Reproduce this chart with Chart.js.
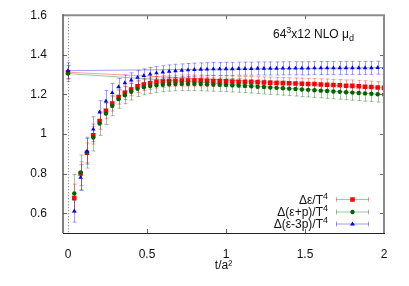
<!DOCTYPE html>
<html>
<head>
<meta charset="utf-8">
<script src="https://cdn.jsdelivr.net/npm/chart.js@4.4.0/dist/chart.umd.min.js"></script>
<style>
  html, body { margin: 0; padding: 0; background: #fff; }
  #wrap { width: 409px; height: 286px; }
</style>
</head>
<body>
<div id="wrap"><canvas id="chart" width="409" height="286"></canvas></div>
<script>
// flow time t/a^2
const tValues = [
  0, 0.04, 0.08, 0.12, 0.16, 0.2, 0.24, 0.28, 0.32, 0.36,
  0.4, 0.44, 0.48, 0.52, 0.56, 0.6, 0.64, 0.68, 0.72, 0.76,
  0.8, 0.84, 0.88, 0.92, 0.96, 1, 1.04, 1.08, 1.12, 1.16,
  1.2, 1.24, 1.28, 1.32, 1.36, 1.4, 1.44, 1.48, 1.52, 1.56,
  1.6, 1.64, 1.68, 1.72, 1.76, 1.8, 1.84, 1.88, 1.92, 1.96,
  2
];

// Δε/T^4
const eps = [
  1.312, 0.677, 0.800, 0.905, 0.994, 1.066, 1.117, 1.154, 1.187, 1.208,
  1.225, 1.241, 1.250, 1.256, 1.261, 1.265, 1.267, 1.269, 1.270, 1.270,
  1.270, 1.270, 1.269, 1.268, 1.267, 1.266, 1.265, 1.264, 1.263, 1.262,
  1.261, 1.260, 1.259, 1.258, 1.257, 1.256, 1.255, 1.254, 1.253, 1.252,
  1.250, 1.249, 1.247, 1.246, 1.244, 1.243, 1.241, 1.239, 1.237, 1.235,
  1.233
];
const errEps = [
  0.035, 0.070, 0.060, 0.050, 0.045, 0.042, 0.040, 0.038, 0.036, 0.034,
  0.032, 0.031, 0.030, 0.030, 0.029, 0.029, 0.028, 0.028, 0.028, 0.028,
  0.028, 0.028, 0.028, 0.028, 0.028, 0.028, 0.028, 0.028, 0.028, 0.028,
  0.028, 0.028, 0.028, 0.028, 0.028, 0.028, 0.028, 0.028, 0.028, 0.028,
  0.029, 0.029, 0.029, 0.029, 0.029, 0.030, 0.030, 0.030, 0.030, 0.030,
  0.030
];

// Δ(ε+p)/T^4
const epsP = [
  1.305, 0.700, 0.806, 0.906, 0.982, 1.053, 1.103, 1.142, 1.176, 1.196,
  1.213, 1.228, 1.236, 1.242, 1.246, 1.249, 1.251, 1.252, 1.253, 1.253,
  1.253, 1.252, 1.251, 1.250, 1.249, 1.248, 1.246, 1.245, 1.243, 1.241,
  1.239, 1.237, 1.235, 1.233, 1.231, 1.229, 1.227, 1.225, 1.223, 1.221,
  1.219, 1.217, 1.215, 1.213, 1.211, 1.209, 1.207, 1.205, 1.203, 1.201,
  1.199
];
const errEpsP = [
  0.040, 0.095, 0.088, 0.078, 0.068, 0.060, 0.055, 0.050, 0.046, 0.043,
  0.041, 0.039, 0.038, 0.037, 0.036, 0.035, 0.035, 0.034, 0.034, 0.034,
  0.034, 0.034, 0.034, 0.034, 0.034, 0.034, 0.034, 0.034, 0.034, 0.034,
  0.035, 0.035, 0.035, 0.035, 0.035, 0.035, 0.035, 0.036, 0.036, 0.036,
  0.036, 0.037, 0.037, 0.037, 0.038, 0.038, 0.038, 0.039, 0.039, 0.040,
  0.040
];

// Δ(ε-3p)/T^4
const eps3p = [
  1.320, 0.610, 0.780, 0.913, 1.024, 1.110, 1.166, 1.208, 1.238, 1.258,
  1.272, 1.285, 1.295, 1.302, 1.308, 1.312, 1.316, 1.319, 1.321, 1.323,
  1.325, 1.326, 1.327, 1.328, 1.328, 1.329, 1.329, 1.330, 1.330, 1.330,
  1.331, 1.331, 1.331, 1.331, 1.332, 1.332, 1.332, 1.332, 1.332, 1.333,
  1.333, 1.333, 1.333, 1.333, 1.334, 1.334, 1.334, 1.334, 1.334, 1.335,
  1.335
];
const errEps3p = [
  0.040, 0.055, 0.065, 0.065, 0.063, 0.058, 0.054, 0.048, 0.043, 0.040,
  0.037, 0.035, 0.034, 0.034, 0.033, 0.033, 0.033, 0.033, 0.033, 0.033,
  0.033, 0.033, 0.033, 0.033, 0.033, 0.033, 0.033, 0.033, 0.033, 0.033,
  0.033, 0.033, 0.033, 0.033, 0.033, 0.033, 0.033, 0.033, 0.033, 0.033,
  0.033, 0.033, 0.033, 0.033, 0.033, 0.033, 0.033, 0.033, 0.033, 0.033,
  0.033
];

const xTicks = [0, 0.5, 1, 1.5, 2];
const yTicks = [0.6, 0.8, 1, 1.2, 1.4, 1.6];

// t=0 row sits last in the data file, so a line runs from t=2 back to t=0
function toPoints(vals, errs) {
  const pts = tValues.map((t, i) => ({ x: t, y: vals[i], err: errs[i] }));
  pts.push(pts.shift());
  return pts;
}

const FONT = '"Liberation Sans", Arial, Helvetica, sans-serif';
Chart.defaults.font.family = FONT;
Chart.defaults.font.size = 12;
Chart.defaults.color = '#111';

const series = [
  { label: 'Δε/T', data: toPoints(eps, errEps), color: '#ff0000', light: 'rgba(255,0,0,0.38)', style: 'rect', radius: 3.2, order: 3 },
  { label: 'Δ(ε+p)/T', data: toPoints(epsP, errEpsP), color: '#006400', light: 'rgba(0,100,0,0.38)', style: 'circle', radius: 2.2, order: 2 },
  { label: 'Δ(ε-3p)/T', data: toPoints(eps3p, errEps3p), color: '#0000ff', light: 'rgba(0,0,255,0.38)', style: 'triangle', radius: 2.6, order: 1 }
];

function markPath(ctx, style, x, y, r) {
  ctx.beginPath();
  if (style === 'rect') {
    const s = r * Math.SQRT1_2;
    ctx.rect(x - s, y - s, 2 * s, 2 * s);
  } else if (style === 'circle') {
    ctx.arc(x, y, r, 0, Math.PI * 2);
  } else {
    ctx.moveTo(x, y - r);
    ctx.lineTo(x + r * 0.95, y + r * 0.6);
    ctx.lineTo(x - r * 0.95, y + r * 0.6);
    ctx.closePath();
  }
}

const errorBars = {
  id: 'errorBars',
  beforeDatasetsDraw(chart) {
    const { ctx, chartArea: a, scales: { x, y } } = chart;
    ctx.save();
    // dotted line at t=0
    const x0 = Math.round(x.getPixelForValue(0)) + 0.5;
    ctx.strokeStyle = '#777';
    ctx.lineWidth = 1;
    ctx.setLineDash([1, 2]);
    ctx.beginPath();
    ctx.moveTo(x0, a.top);
    ctx.lineTo(x0, a.bottom);
    ctx.stroke();
    ctx.setLineDash([]);

    ctx.beginPath();
    ctx.rect(a.left, a.top, a.right - a.left, a.bottom - a.top);
    ctx.clip();
    chart.data.datasets.slice().reverse().forEach((ds) => {
      ctx.strokeStyle = ds.errColor;
      ds.data.forEach((p) => {
        const px = Math.round(x.getPixelForValue(p.x)) + 0.5;
        const top = y.getPixelForValue(p.y + p.err);
        const bot = y.getPixelForValue(p.y - p.err);
        ctx.beginPath();
        ctx.moveTo(px, top); ctx.lineTo(px, bot);
        ctx.moveTo(px - 2, top); ctx.lineTo(px + 2, top);
        ctx.moveTo(px - 2, bot); ctx.lineTo(px + 2, bot);
        ctx.stroke();
      });
    });
    ctx.restore();
  }
};

function supText(ctx, parts, x, y, align) {
  // parts: [text, kind] with kind '' | 'sup' | 'sub'
  const fontFor = (k) => (k ? '9px ' : '12px ') + FONT;
  let w = 0;
  parts.forEach(([t, k]) => { ctx.font = fontFor(k); w += ctx.measureText(t).width; });
  let cx = align === 'right' ? x - w : x;
  ctx.textAlign = 'left';
  ctx.textBaseline = 'alphabetic';
  parts.forEach(([t, k]) => {
    ctx.font = fontFor(k);
    const dy = k === 'sup' ? -5 : k === 'sub' ? 3 : 0;
    ctx.fillText(t, cx, y + dy);
    cx += ctx.measureText(t).width;
  });
}

const frame = {
  id: 'frame',
  afterDraw(chart) {
    const { ctx, chartArea: a, scales: { x, y } } = chart;
    ctx.save();
    // inward ticks
    ctx.strokeStyle = '#666';
    ctx.lineWidth = 1;
    ctx.beginPath();
    xTicks.forEach((v) => {
      if (v <= 0 || v >= 2) return;
      const px = Math.round(x.getPixelForValue(v)) + 0.5;
      ctx.moveTo(px, a.bottom); ctx.lineTo(px, a.bottom - 4);
      ctx.moveTo(px, a.top); ctx.lineTo(px, a.top + 4);
    });
    yTicks.forEach((v) => {
      if (v >= 1.6) return;
      const py = Math.round(y.getPixelForValue(v)) + 0.5;
      ctx.moveTo(a.left, py); ctx.lineTo(a.left + 4, py);
      ctx.moveTo(a.right, py); ctx.lineTo(a.right - 4, py);
    });
    ctx.stroke();

    // border
    ctx.strokeStyle = '#8a8a8a';
    ctx.lineWidth = 2;
    ctx.beginPath();
    ctx.moveTo(a.left, a.top); ctx.lineTo(a.right, a.top); ctx.lineTo(a.right, a.bottom);
    ctx.stroke();
    ctx.strokeStyle = '#555';
    ctx.lineWidth = 1.5;
    ctx.beginPath();
    ctx.moveTo(a.left, a.top - 1); ctx.lineTo(a.left, a.bottom);
    ctx.stroke();
    ctx.strokeStyle = '#222';
    ctx.lineWidth = 1;
    ctx.beginPath();
    ctx.moveTo(a.left, a.bottom + 0.5); ctx.lineTo(a.right + 1, a.bottom + 0.5);
    ctx.stroke();

    // label in the corner
    ctx.fillStyle = '#111';
    supText(ctx, [['64', ''], ['3', 'sup'], ['x12 NLO μ', ''], ['d', 'sub']], 273, 38, 'left');

    // key
    const rows = [199, 211.5, 223.5];
    series.forEach((s, i) => {
      const ry = rows[i];
      ctx.fillStyle = '#111';
      supText(ctx, [[s.label, ''], ['4', 'sup']], 328, ry + 4.5, 'right');
      ctx.strokeStyle = s.light;
      ctx.lineWidth = 1;
      ctx.beginPath();
      ctx.moveTo(336, ry + 0.5); ctx.lineTo(369, ry + 0.5);
      ctx.moveTo(336.5, ry - 2); ctx.lineTo(336.5, ry + 3);
      ctx.moveTo(368.5, ry - 2); ctx.lineTo(368.5, ry + 3);
      ctx.stroke();
      ctx.fillStyle = s.color;
      markPath(ctx, s.style, 352.5, ry + 0.5, s.radius);
      ctx.fill();
    });
    ctx.restore();
  }
};

const lastSeg = tValues.length - 2;

new Chart(document.getElementById('chart'), {
  type: 'line',
  data: {
    datasets: series.map((s) => ({
      label: s.label,
      data: s.data,
      order: s.order,
      errColor: s.light,
      borderColor: s.light,
      borderWidth: 1,
      // only the closing segment (t=2 back to t=0) is visible
      segment: { borderColor: (c) => (c.p0DataIndex === lastSeg ? s.light : 'rgba(0,0,0,0)') },
      backgroundColor: s.color,
      pointBackgroundColor: s.color,
      pointBorderWidth: 0,
      pointStyle: s.style,
      pointRadius: s.radius,
      tension: 0,
      fill: false
    }))
  },
  options: {
    responsive: false,
    animation: false,
    devicePixelRatio: 1,
    layout: { padding: { left: 0, right: 25, top: 15, bottom: 0 } },
    plugins: { legend: { display: false }, tooltip: { enabled: false } },
    scales: {
      x: {
        type: 'linear',
        min: -0.0316,
        max: 2,
        grid: { display: false },
        border: { display: false },
        afterBuildTicks: (sc) => { sc.ticks = xTicks.map((v) => ({ value: v })); },
        afterFit: (sc) => { sc.height = 53; },
        ticks: { padding: 6, maxRotation: 0, callback: (v) => String(v) },
        title: { display: true, text: 't/a²', padding: { top: 0, bottom: 13 } }
      },
      y: {
        min: 0.5,
        max: 1.6,
        grid: { display: false },
        border: { display: false },
        afterBuildTicks: (sc) => { sc.ticks = yTicks.map((v) => ({ value: v })); },
        afterFit: (sc) => { sc.width = 63; },
        ticks: { padding: 8, callback: (v) => String(v) }
      }
    }
  },
  plugins: [errorBars, frame]
});
</script>
</body>
</html>
